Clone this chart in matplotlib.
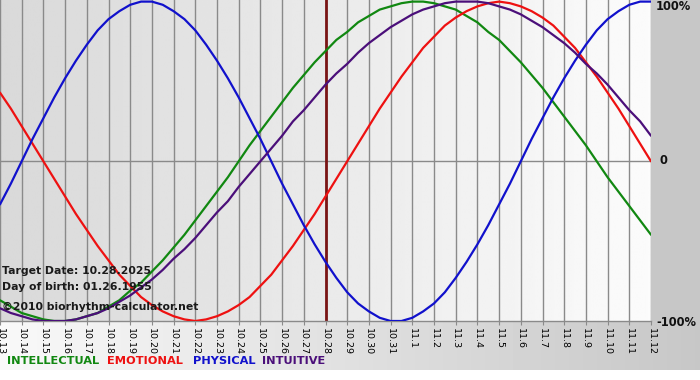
import numpy as np
import matplotlib
matplotlib.use("Agg")
import matplotlib.pyplot as plt

# ---- data (two readings per day) ----
day_labels = ["10.13", "10.14", "10.15", "10.16", "10.17", "10.18", "10.19", "10.20",
              "10.21", "10.22", "10.23", "10.24", "10.25", "10.26", "10.27", "10.28",
              "10.29", "10.30", "10.31", "11.1", "11.2", "11.3", "11.4", "11.5",
              "11.6", "11.7", "11.8", "11.9", "11.10", "11.11", "11.12"]
readings_per_day = 2

physical = [-0.27, -0.14, 0.00, 0.14, 0.27, 0.40, 0.52, 0.63, 0.73, 0.82, 0.89,
            0.94, 0.98, 1.00, 1.00, 0.98, 0.94, 0.89, 0.82, 0.73, 0.63, 0.52,
            0.40, 0.27, 0.14, 0.00, -0.14, -0.27, -0.40, -0.52, -0.63, -0.73,
            -0.82, -0.89, -0.94, -0.98, -1.00, -1.00, -0.98, -0.94, -0.89, -0.82,
            -0.73, -0.63, -0.52, -0.40, -0.27, -0.14, 0.00, 0.14, 0.27, 0.40,
            0.52, 0.63, 0.73, 0.82, 0.89, 0.94, 0.98, 1.00, 1.00]

emotional = [0.43, 0.33, 0.22, 0.11, 0.00, -0.11, -0.22, -0.33, -0.43, -0.53,
             -0.62, -0.71, -0.78, -0.85, -0.90, -0.94, -0.97, -0.99, -1.00, -0.99,
             -0.97, -0.94, -0.90, -0.85, -0.78, -0.71, -0.62, -0.53, -0.43, -0.33,
             -0.22, -0.11, 0.00, 0.11, 0.22, 0.33, 0.43, 0.53, 0.62, 0.71, 0.78,
             0.85, 0.90, 0.94, 0.97, 0.99, 1.00, 0.99, 0.97, 0.94, 0.90, 0.85,
             0.78, 0.71, 0.62, 0.53, 0.43, 0.33, 0.22, 0.11, 0.00]

intellectual = [-0.87, -0.91, -0.95, -0.97, -0.99, -1.00, -1.00, -0.99, -0.97,
                -0.95, -0.91, -0.87, -0.81, -0.76, -0.69, -0.62, -0.54, -0.46,
                -0.37, -0.28, -0.19, -0.10, 0.00, 0.10, 0.19, 0.28, 0.37, 0.46,
                0.54, 0.62, 0.69, 0.76, 0.81, 0.87, 0.91, 0.95, 0.97, 0.99, 1.00,
                1.00, 0.99, 0.97, 0.95, 0.91, 0.87, 0.81, 0.76, 0.69, 0.62, 0.54,
                0.46, 0.37, 0.28, 0.19, 0.10, 0.00, -0.10, -0.19, -0.28, -0.37,
                -0.46]

intuitive = [-0.92, -0.95, -0.97, -0.99, -1.00, -1.00, -1.00, -0.99, -0.97, -0.95,
             -0.92, -0.88, -0.84, -0.79, -0.74, -0.68, -0.61, -0.55, -0.48, -0.40,
             -0.32, -0.25, -0.16, -0.08, 0.00, 0.08, 0.16, 0.25, 0.32, 0.40, 0.48,
             0.55, 0.61, 0.68, 0.74, 0.79, 0.84, 0.88, 0.92, 0.95, 0.97, 0.99,
             1.00, 1.00, 1.00, 0.99, 0.97, 0.95, 0.92, 0.88, 0.84, 0.79, 0.74,
             0.68, 0.61, 0.55, 0.48, 0.40, 0.32, 0.25, 0.16]

target_label = "10.28"
info_lines = ["Target Date: 10.28.2025", "Day of birth: 01.26.1955",
              "\u00a92010 biorhythm-calculator.net"]
legend_names = ["INTELLECTUAL", "EMOTIONAL", "PHYSICAL", "INTUITIVE"]
y_labels = ["100%", "0", "-100%"]

# ---- styling ----
C_INT = "#118811"
C_EMO = "#ee1111"
C_PHY = "#1111cc"
C_ITU = "#4b0f7a"
GRID = "#8a8a8a"

W, H = 700, 380
fig = plt.figure(figsize=(W / 100, H / 100), dpi=100)

# figure background
bg = fig.add_axes([0, 0, 1, 1], zorder=-10)
bg.axis("off")
img = np.full((H, W), 0.78)
grad = np.linspace(0.975, 0.78, W)
img[321:370, :] = grad[None, :]
img[370:, :] = 1.0
bg.imshow(img, cmap="gray", vmin=0, vmax=1, aspect="auto",
          extent=[0, 1, 0, 1], interpolation="bilinear")

plot_w, plot_h = 651, 321
ax = fig.add_axes([0, 1 - plot_h / H, plot_w / W, plot_h / H])
ax.patch.set_alpha(0)

xd = np.arange(len(day_labels))
xs = np.arange(len(physical)) / readings_per_day
ax.set_xlim(0, len(day_labels) - 1)
ax.set_ylim(-1.0, 1.01)

# plot-area gradient
pg = np.linspace(0.85, 0.985, 300)[None, :]
ax.imshow(pg, cmap="gray", vmin=0, vmax=1, aspect="auto",
          extent=[0, len(day_labels) - 1, -1.0, 1.01], zorder=0,
          interpolation="bilinear")

for xi in xd:
    ax.axvline(xi, color=GRID, lw=1.0, zorder=1)
ax.axhline(0, color=GRID, lw=1.0, zorder=1)

ti = day_labels.index(target_label)
ax.axvline(ti, color="#7a1515", lw=2.0, zorder=2)

lw = 1.6
for series, col in [(intellectual, C_INT), (emotional, C_EMO),
                    (physical, C_PHY), (intuitive, C_ITU)]:
    ax.plot(xs, series, color=col, lw=lw, zorder=3, solid_joinstyle="round",
            solid_capstyle="round")

for s in ["top", "left", "right"]:
    ax.spines[s].set_visible(False)
ax.spines["bottom"].set_color(GRID)
ax.spines["bottom"].set_linewidth(1.0)

ax.set_xticks(xd)
ax.set_xticklabels(day_labels, rotation=270, fontsize=6.8, family="DejaVu Sans")
ax.tick_params(axis="x", direction="out", length=3, color=GRID, pad=2)
ax.set_yticks([])

# info text
for t, yp in zip(info_lines, [271, 287, 307]):
    fig.text(2 / W, 1 - yp / H, t, fontsize=7.8, fontweight="bold",
             color="#1a1a1a", va="center", ha="left")

# right-side labels
for lab, yp in zip(y_labels, [7, 161, 322]):
    xp = 659 if lab == "0" else 656
    fig.text(xp / W, 1 - yp / H, lab, fontsize=8.3, fontweight="bold",
             color="#111111", va="center", ha="left")

# legend
leg_colors = [C_INT, C_EMO, C_PHY, C_ITU]
leg_x = [7, 107, 193, 262]
for name, c, xp in zip(legend_names, leg_colors, leg_x):
    fig.text(xp / W, 1 - 361 / H, name, fontsize=8.2, fontweight="bold",
             color=c, va="center", ha="left")

fig.savefig("out.png", dpi=100)
